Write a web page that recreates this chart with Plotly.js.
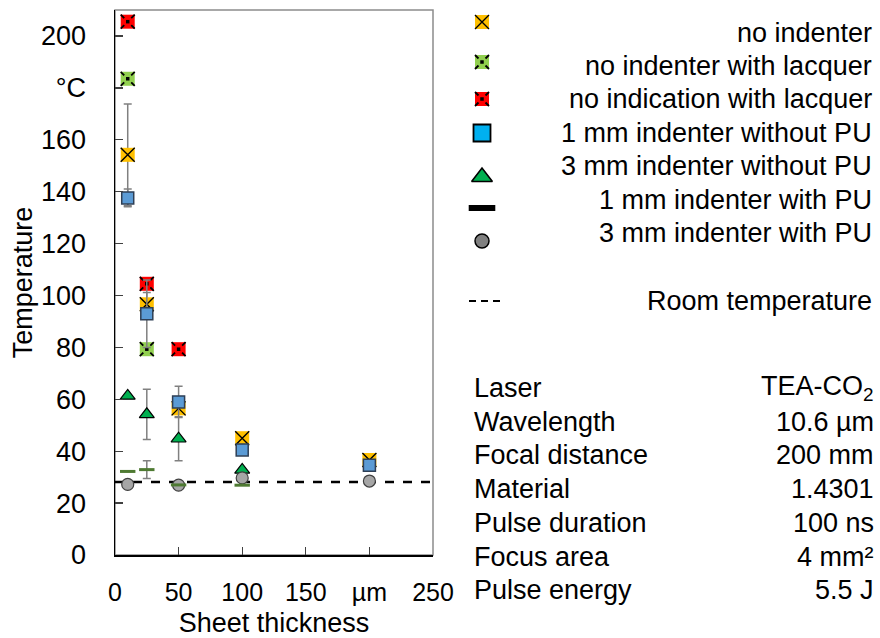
<!DOCTYPE html>
<html>
<head>
<meta charset="utf-8">
<script src="https://cdn.plot.ly/plotly-3.0.1.min.js"></script>
<style>html,body{margin:0;padding:0;background:#fff;}#chart{width:880px;height:638px;}</style>
</head>
<body>
<div id="chart"></div>
<script>
// ---------------- DATA ----------------
const thickness = [10, 25, 50, 100, 200];               // µm
const seriesNames = [
  'no indenter',
  'no indenter with lacquer',
  'no indication with lacquer',
  '1 mm indenter without PU',
  '3 mm indenter without PU',
  '1 mm indenter with PU',
  '3 mm indenter with PU'
];
const noIndenter          = [154.2, 96.6, 56.5, 45.0, 36.6];
const noIndenterErr       = [19.6, 4.5, 0, 0, 0];
const noIndenterLacquer   = [183.5, 79.3, null, null, null];
const noIndicationLacquer = [205.5, 104.5, 79.3, null, null];
const mm1WithoutPU        = [137.6, 93.0, 59.0, 40.5, 34.6];
const mm1WithoutPUErr     = [3.4, 13.0, 6.0, 1.5, 0];
const mm3WithoutPU        = [61.3, 54.2, 44.8, 32.8, null];
const mm3WithoutPUErr     = [0, 9.7, 8.5, 0, 0];
const mm1WithPU           = [32.2, 32.9, 27.0, 26.9, null];
const mm1WithPUErr        = [0, 3.4, 0, 0, 0];
const mm3WithPU           = [27.2, null, 26.9, 29.7, 28.5];
const roomTemperature     = 28.1;
const roomLabel           = 'Room temperature';

const xTickVals  = [0, 50, 100, 150, 200, 250];
const xTickText  = ['0', '50', '100', '150', 'µm', '250'];
const yTickVals  = [0, 20, 40, 60, 80, 100, 120, 140, 160, 180, 200];
const yTickText  = ['0', '20', '40', '60', '80', '100', '120', '140', '160', '°C', '200'];

const infoLabels = ['Laser', 'Wavelength', 'Focal distance', 'Material', 'Pulse duration', 'Focus area', 'Pulse energy'];
const infoValues = ['TEA-CO<sub>2</sub>', '10.6 µm', '200 mm', '1.4301', '100 ns', '4 mm²', '5.5 J'];

// ---------------- STYLE / LAYOUT HELPERS ----------------
const W = 880, H = 638;
const FONT = 'Liberation Sans, Arial, sans-serif';
const px = x => x / W;
const py = y => 1 - y / H;
const ERR_COLOR = '#808080';

function errSpec(arr) {
  return arr ? {type: 'data', array: arr, visible: true, color: ERR_COLOR, thickness: 1.5, width: 4} : {visible: false};
}
function layer(x, y, marker, opts) {
  return Object.assign({type: 'scatter', mode: 'markers', x: x, y: y, marker: marker,
    showlegend: false, hoverinfo: 'skip', cliponaxis: false}, opts || {});
}
// Crossed square (solid X)
function crossSquare(x, y, fill, size, err, axes) {
  return [
    layer(x, y, {symbol: 'square', size: size, color: fill, line: {width: 0}}, Object.assign({error_y: errSpec(err)}, axes)),
    layer(x, y, {symbol: 'x-thin-open', size: size, color: '#000', line: {color: '#000', width: 1.4}}, axes)
  ];
}
// Square with broken X (corner ticks + centre dot)
function brokenCrossSquare(x, y, fill, size, axes) {
  return [
    layer(x, y, {symbol: 'square', size: size, color: fill, line: {width: 0}}, axes),
    layer(x, y, {symbol: 'x-thin-open', size: size, color: '#000', line: {color: '#000', width: 1.8}}, axes),
    layer(x, y, {symbol: 'x-thin-open', size: size * 0.5, color: fill, line: {color: fill, width: 3.2}}, axes),
    layer(x, y, {symbol: 'square', size: 3.5, color: '#000', line: {width: 0}}, axes)
  ];
}

// ---------------- PLOT TRACES ----------------
const traces = [];
// room temperature line (drawn first, below markers)
traces.push({type: 'scatter', mode: 'lines', x: [0, 250], y: [roomTemperature, roomTemperature],
  line: {color: '#000', width: 2.5, dash: '9px,9px'}, showlegend: false, hoverinfo: 'skip', name: roomLabel});

traces.push(...crossSquare(thickness, noIndenter, '#FFC000', 14, noIndenterErr));
traces.push(...brokenCrossSquare(thickness, noIndenterLacquer, '#92D050', 14));
traces.push(...brokenCrossSquare(thickness, noIndicationLacquer, '#FF0000', 14));
traces.push(layer(thickness, mm1WithoutPU, {symbol: 'square', size: 12, color: '#5B9BD5', line: {color: '#2E3F55', width: 1.5}}, {error_y: errSpec(mm1WithoutPUErr)}));
traces.push(layer(thickness, mm3WithoutPU, {symbol: 'triangle-up', size: 13, color: '#00B050', line: {color: '#000', width: 1.2}}, {error_y: errSpec(mm3WithoutPUErr)}));
traces.push(layer(thickness, mm3WithPU, {symbol: 'circle', size: 12, color: '#A6A6A6', line: {color: '#404040', width: 1.2}}));
traces.push(layer(thickness, mm1WithPU, {symbol: 'line-ew-open', size: 11, color: '#4E7A32', line: {color: '#4E7A32', width: 3}}, {error_y: errSpec(mm1WithPUErr)}));

// ---------------- LEGEND SYMBOLS (separate pixel axes) ----------------
const legX = 482;
const legRowY = [22, 62, 99, 133, 175, 208, 241];
const lg = {xaxis: 'x2', yaxis: 'y2'};
traces.push(...crossSquare([legX], [legRowY[0]], '#FFC000', 14, null, lg));
traces.push(...brokenCrossSquare([legX], [legRowY[1]], '#92D050', 14, lg));
traces.push(...brokenCrossSquare([legX], [legRowY[2]], '#FF0000', 14, lg));
traces.push(layer([legX], [legRowY[3]], {symbol: 'square', size: 17, color: '#00B0F0', line: {color: '#000', width: 1.8}}, lg));
traces.push(layer([legX], [legRowY[4] + 2], {symbol: 'triangle-up', size: 18, color: '#00B050', line: {color: '#000', width: 1.6}}, lg));
traces.push(layer([legX], [legRowY[5]], {symbol: 'line-ew-open', size: 19, color: '#000', line: {color: '#000', width: 6}}, lg));
traces.push(layer([legX], [legRowY[6]], {symbol: 'circle', size: 14, color: '#808080', line: {color: '#000', width: 1.5}}, lg));

// ---------------- ANNOTATIONS ----------------
const annotations = [];
const textRight = 874;
const legTextY0 = 32.5, legTextStep = 33.4;
seriesNames.forEach((t, i) => annotations.push({
  xref: 'paper', yref: 'paper', x: px(textRight), y: py(legTextY0 + i * legTextStep),
  xanchor: 'right', yanchor: 'middle', showarrow: false, text: t,
  font: {family: FONT, size: 27, color: '#000'}
}));
annotations.push({xref: 'paper', yref: 'paper', x: px(textRight), y: py(301), xanchor: 'right', yanchor: 'middle',
  showarrow: false, text: roomLabel, font: {family: FONT, size: 27, color: '#000'}});
const infoY0 = 388, infoStep = 33.7;
infoLabels.forEach((t, i) => {
  annotations.push({xref: 'paper', yref: 'paper', x: px(472), y: py(infoY0 + i * infoStep),
    xanchor: 'left', yanchor: 'middle', showarrow: false, text: t, font: {family: FONT, size: 27, color: '#000'}});
  annotations.push({xref: 'paper', yref: 'paper', x: px(textRight + 2), y: py(infoY0 + i * infoStep),
    xanchor: 'right', yanchor: 'middle', showarrow: false, text: infoValues[i], font: {family: FONT, size: 27, color: '#000'}});
});

// ---------------- LAYOUT ----------------
const plotL = 115, plotR = 433, plotT = 10, plotB = 555;
const layout = {
  width: W, height: H,
  margin: {l: 0, r: 0, t: 0, b: 0, pad: 0},
  paper_bgcolor: '#fff', plot_bgcolor: 'rgba(0,0,0,0)',
  showlegend: false,
  font: {family: FONT, color: '#000'},
  xaxis: {
    domain: [px(plotL), px(plotR)], range: [0, 250], fixedrange: true,
    tickmode: 'array', tickvals: xTickVals, ticktext: xTickText,
    ticks: 'inside', ticklen: 8, tickwidth: 1.3, tickcolor: '#404040',
    showline: true, linecolor: '#000', linewidth: 1.5, showgrid: false, zeroline: false,
    tickfont: {family: FONT, size: 25, color: '#000'}, ticklabelstandoff: 14,
    automargin: false,
    title: {text: 'Sheet thickness', font: {family: FONT, size: 27, color: '#000'}, standoff: 13}
  },
  yaxis: {
    domain: [py(plotB), py(plotT)], range: [0, 210], fixedrange: true,
    tickmode: 'array', tickvals: yTickVals, ticktext: yTickText,
    ticks: 'inside', ticklen: 8, tickwidth: 1.3, tickcolor: '#404040',
    showline: true, linecolor: '#000', linewidth: 1.5, showgrid: false, zeroline: false,
    tickfont: {family: FONT, size: 27, color: '#000'}, ticklabelstandoff: 22,
    automargin: false,
    title: {text: 'Temperature', font: {family: FONT, size: 27, color: '#000'}, standoff: 0}
  },
  xaxis2: {domain: [0, 1], range: [0, W], visible: false, fixedrange: true, anchor: 'y2'},
  yaxis2: {domain: [0, 1], range: [H, 0], visible: false, fixedrange: true, anchor: 'x2'},
  shapes: [
    {type: 'rect', xref: 'x domain', yref: 'y domain', x0: 0, x1: 1, y0: 0, y1: 1,
     line: {color: '#8C8C8C', width: 1.5}, layer: 'below'},
    // dashed key for the room-temperature line
    {type: 'line', xref: 'paper', yref: 'paper', x0: px(469), x1: px(502), y0: py(301), y1: py(301),
     line: {color: '#000', width: 2, dash: '7px,5px'}}
  ],
  annotations: annotations
};

Plotly.newPlot('chart', traces, layout, {displayModeBar: false, staticPlot: true});
</script>
</body>
</html>
